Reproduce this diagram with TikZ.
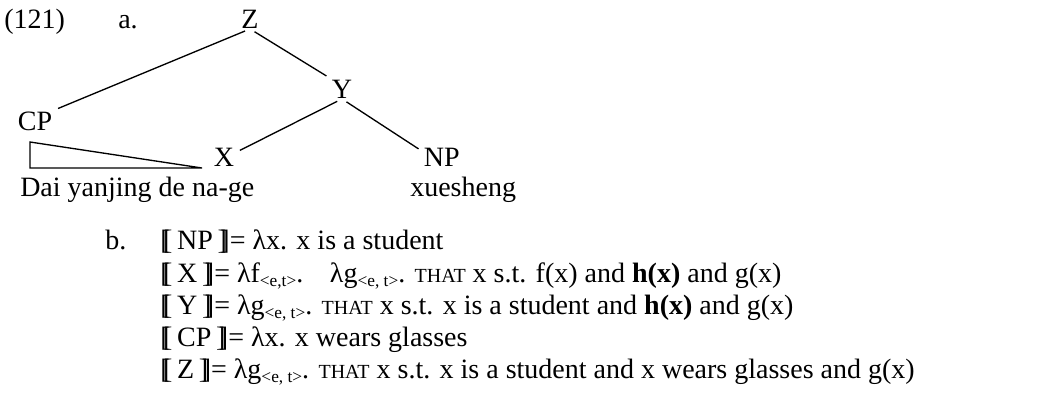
\documentclass[tikz,border=0pt]{standalone}
\usepackage{fontspec}
\setmainfont{Liberation Serif}
\usepackage{tikz}
\usetikzlibrary{positioning}

\newcommand{\lsem}{[\kern-0.23em[}
\newcommand{\rsem}{]\kern-0.23em]}
\newcommand{\tsub}[1]{\raisebox{-0.35ex}{\fontsize{13}{13}\selectfont #1}}
\newcommand{\thatsc}{{\fontsize{15}{15}\selectfont THAT}}

\begin{document}
\begin{tikzpicture}[x=0.75pt, y=-0.75pt,
  every node/.style={font=\fontsize{21}{24}\selectfont},
  cat/.style={anchor=base, inner sep=0.5pt},
  branch/.style={line width=1pt, shorten <=4pt, shorten >=4pt},
  semline/.style={anchor=base west, inner sep=0pt}]
\useasboundingbox (0,0) rectangle (1040,412);
\node[semline] (num) at (4,28) {(121)};
\node[semline] (parta) at (118,28) {a.};
\node[cat] (Z) at (250,28) {Z};
\node[cat] (Y) at (342,98) {Y};
\node[cat, anchor=base west] (CP) at (17,130) {CP};
\node[cat, anchor=base west] (X) at (213,166) {X};
\node[cat, anchor=base west] (NP) at (423,166) {NP};
\draw[branch] (Z.south) -- (CP.north east);
\draw[branch] (Z.south) -- (Y.north west);
\draw[branch] (Y.south) -- (X.20);
\draw[branch] (Y.south) -- (NP.165);
\draw[branch, shorten <=0pt, shorten >=0pt] (30,142) -- (30,168) -- (202,168) -- cycle;
\node[semline] (cpwords) at (20,196) {Dai yanjing de na-ge};
\node[semline] (npwords) at (410,196) {xuesheng};
\node[semline] (partb) at (105,249) {b.};
\node[semline] (semNP) at (160,249) {\lsem\,NP\,\rsem= λx. x is a student};
\node[semline] (semX) at (160,282) {\lsem\,X\,\rsem= λf\tsub{<e,t>}.\hspace{20pt}λg\tsub{<e, t>}. \thatsc\ x s.t. f(x) and \textbf{h(x)} and g(x)};
\node[semline] (semY) at (160,314) {\lsem\,Y\,\rsem= λg\tsub{<e, t>}. \thatsc\ x s.t. x is a student and \textbf{h(x)} and g(x)};
\node[semline] (semCP) at (160,346) {\lsem\,CP\,\rsem= λx. x wears glasses};
\node[semline] (semZ) at (160,378) {\lsem\,Z\,\rsem= λg\tsub{<e, t>}. \thatsc\ x s.t. x is a student and x wears glasses and g(x)};
\end{tikzpicture}
\end{document}
